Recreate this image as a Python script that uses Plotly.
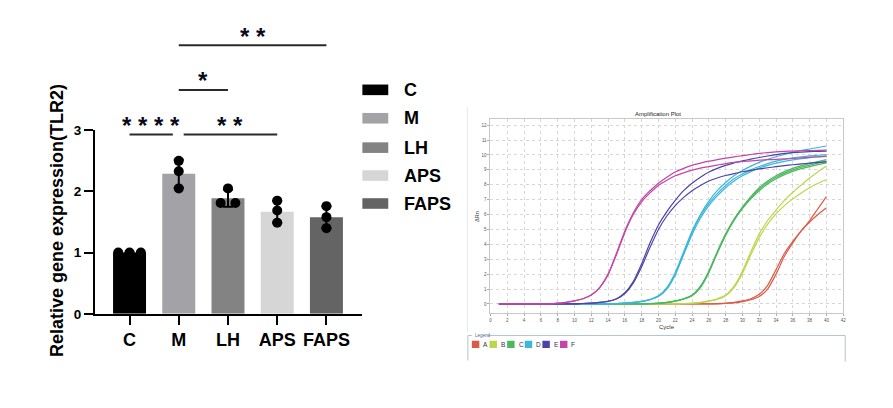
import plotly.graph_objects as go

W, H = 893, 408

# ---------------- bar chart data ----------------
categories = ["C", "M", "LH", "APS", "FAPS"]
means = [1.00, 2.29, 1.89, 1.67, 1.58]
sds = [0.00, 0.23, 0.14, 0.18, 0.18]
rep1 = [1.00, 2.50, 2.05, 1.85, 1.76]
rep2 = [1.00, 2.33, 1.81, 1.69, 1.58]
rep3 = [1.00, 2.05, 1.81, 1.49, 1.40]
bar_colors = ["#000000", "#a3a3a7", "#838383", "#d6d6d6", "#646464"]

sig_from = [0, 1.1, 1, 1]
sig_to = [0.88, 3, 2, 4]
sig_height = [2.93, 2.93, 3.66, 4.39]
sig_label = ["* * * *", "* *", "*", "* *"]

# ---------------- amplification plot data ----------------
cycles = list(range(1, 41))
z = [0.0]
A1 = z * 26 + [0.02, 0.05, 0.1, 0.2, 0.35, 0.65, 1.25, 2.3, 3.4, 4.2, 4.9, 5.6, 6.4, 7.2]
A2 = z * 26 + [0.01, 0.03, 0.07, 0.15, 0.28, 0.5, 1.0, 2.0, 3.2, 4.1, 4.9, 5.5, 6.0, 6.45]
B1 = z * 22 + [0.02, 0.05, 0.1, 0.2, 0.35, 0.6, 1.2, 2.2, 3.5, 4.7, 5.6, 6.3, 6.95, 7.5, 7.98, 8.45, 8.87, 9.25]
B2 = z * 22 + [0.02, 0.04, 0.08, 0.17, 0.3, 0.55, 1.1, 2.05, 3.3, 4.45, 5.35, 6.05, 6.6, 7.05, 7.45, 7.8, 8.1, 8.35]
C1 = z * 18 + [0.02, 0.05, 0.1, 0.2, 0.35, 0.6, 1.2, 2.2, 3.5, 4.7, 5.7, 6.5, 7.2, 7.8, 8.25, 8.6, 8.88, 9.1, 9.28, 9.42, 9.55, 9.68]
C2 = z * 18 + [0.02, 0.05, 0.1, 0.19, 0.33, 0.57, 1.15, 2.15, 3.45, 4.65, 5.65, 6.45, 7.12, 7.7, 8.15, 8.5, 8.78, 9.0, 9.18, 9.32, 9.45, 9.58]
C3 = z * 18 + [0.02, 0.04, 0.09, 0.18, 0.32, 0.55, 1.1, 2.1, 3.4, 4.6, 5.6, 6.4, 7.05, 7.6, 8.05, 8.4, 8.68, 8.9, 9.08, 9.22, 9.35, 9.47]
D1 = z * 14 + [0.03, 0.06, 0.1, 0.18, 0.3, 0.55, 1.1, 2.1, 3.5, 4.9, 6.0, 6.9, 7.6, 8.15, 8.6, 8.95, 9.25, 9.5, 9.7, 9.88, 10.03, 10.17, 10.3, 10.4, 10.5, 10.6]
D2 = z * 14 + [0.03, 0.06, 0.1, 0.17, 0.29, 0.53, 1.05, 2.0, 3.4, 4.8, 5.9, 6.75, 7.4, 7.95, 8.4, 8.72, 9.0, 9.22, 9.42, 9.58, 9.7, 9.8, 9.88, 9.94, 9.98, 10.02]
D3 = z * 14 + [0.03, 0.05, 0.09, 0.16, 0.28, 0.5, 1.0, 1.95, 3.3, 4.65, 5.75, 6.6, 7.25, 7.8, 8.25, 8.6, 8.88, 9.12, 9.3, 9.45, 9.57, 9.67, 9.75, 9.82, 9.87, 9.9]
E1 = z * 10 + [0.03, 0.05, 0.1, 0.18, 0.35, 0.75, 1.5, 2.7, 4.1, 5.3, 6.2, 6.95, 7.6, 8.1, 8.5, 8.85, 9.1, 9.3, 9.47, 9.6, 9.72, 9.83, 9.93, 10.02, 10.1, 10.15, 10.19, 10.22, 10.24, 10.25]
E2 = z * 10 + [0.03, 0.05, 0.1, 0.17, 0.33, 0.7, 1.4, 2.5, 3.8, 5.0, 5.9, 6.6, 7.15, 7.6, 7.95, 8.25, 8.45, 8.62, 8.75, 8.87, 8.97, 9.06, 9.14, 9.21, 9.28, 9.34, 9.4, 9.45, 9.5, 9.53]
F1 = z * 7 + [0.05, 0.1, 0.2, 0.35, 0.6, 1.1, 2.0, 3.4, 4.9, 6.1, 7.0, 7.6, 8.1, 8.5, 8.85, 9.1, 9.3, 9.45, 9.58, 9.68, 9.78, 9.87, 9.95, 10.03, 10.1, 10.16, 10.21, 10.24, 10.26, 10.28, 10.29, 10.3, 10.32]
F2 = z * 7 + [0.05, 0.1, 0.2, 0.35, 0.6, 1.1, 1.95, 3.3, 4.8, 6.0, 6.85, 7.45, 7.95, 8.3, 8.6, 8.8, 8.98, 9.12, 9.22, 9.32, 9.42, 9.5, 9.56, 9.6, 9.65, 9.68, 9.7, 9.73, 9.76, 9.8, 9.84, 9.88, 9.92]

amp_groups = ["A", "B", "C", "D", "E", "F"]
amp_curves = {"A": [A1, A2], "B": [B1, B2], "C": [C1, C2, C3],
              "D": [D1, D2, D3], "E": [E1, E2], "F": [F1, F2]}
amp_colors = {"A": "#dc5a46", "B": "#bcd64c", "C": "#4cb860", "D": "#3cb6dc",
              "E": "#4a44aa", "F": "#c444a8"}


def px(x):
    return x / W


def py(y):
    return 1 - y / H


FONT = "Liberation Sans, Arial, sans-serif"
Y0, Y3 = 318.5, 128.0          # pixel rows of value 0 and 3 in the bar panel
UNIT = (Y0 - Y3) / 3.0
TOP = 20.0

fig = go.Figure()

# bars with error bars
idx = list(range(len(categories)))
fig.add_trace(go.Bar(
    x=idx, y=means, width=0.67, marker=dict(color=bar_colors, line=dict(width=0)),
    error_y=dict(type="data", array=sds, color="#000000", thickness=2, width=5),
    xaxis="x", yaxis="y", showlegend=False))

# replicate points
jit1 = [-0.23, 0, 0, 0, 0]
jit2 = [0, 0, -0.15, 0, 0]
jit3 = [0.23, 0, 0.15, 0, 0]
px_pts, py_pts = [], []
for reps, jit in ((rep1, jit1), (rep2, jit2), (rep3, jit3)):
    for i in idx:
        px_pts.append(i + jit[i])
        py_pts.append(reps[i])
fig.add_trace(go.Scatter(
    x=px_pts, y=py_pts, mode="markers", cliponaxis=False,
    marker=dict(color="#000000", size=10, line=dict(width=0)),
    xaxis="x", yaxis="y", showlegend=False))

# significance lines (overlay axes)
sx, sy = [], []
for a, b, h in zip(sig_from, sig_to, sig_height):
    sx += [a, b, None]
    sy += [h, h, None]
fig.add_trace(go.Scatter(x=sx, y=sy, mode="lines", line=dict(color="#2a2a2a", width=2),
                         xaxis="x3", yaxis="y3", showlegend=False, hoverinfo="skip"))

annotations = []
for a, b, h, lab in zip(sig_from, sig_to, sig_height, sig_label):
    annotations.append(dict(x=(a + b) / 2, y=h, xref="x3", yref="y3", text=lab,
                            showarrow=False, xanchor="center", yanchor="middle", yshift=9,
                            font=dict(family=FONT, size=24, color="#0a0a1a", weight="bold")))

# amplification curves
for g in amp_groups:
    for c in amp_curves[g]:
        fig.add_trace(go.Scatter(x=cycles, y=c, mode="lines",
                                 line=dict(color=amp_colors[g], width=1.2, shape="spline", smoothing=0.6),
                                 xaxis="x2", yaxis="y2", showlegend=False))

ax_common = dict(showgrid=False, zeroline=False)
fig.update_layout(
    width=W, height=H, margin=dict(l=0, r=0, t=0, b=0), autosize=False,
    paper_bgcolor="white", plot_bgcolor="rgba(0,0,0,0)",
    font=dict(family=FONT, color="#000000"),
    xaxis=dict(domain=[px(94.5), px(363)], range=[-0.70, 4.73], anchor="y",
               tickmode="array", tickvals=idx, ticktext=categories,
               ticks="outside", ticklen=9, tickwidth=2, tickcolor="#000000",
               showline=True, linewidth=2, linecolor="#000000",
               tickfont=dict(family=FONT, size=18, color="#000000", weight="bold"), **ax_common),
    yaxis=dict(domain=[py(Y0), py(Y3)], range=[0, 3], anchor="x",
               tickmode="array", tickvals=[0, 1, 2, 3],
               ticks="outside", ticklen=9, tickwidth=2, tickcolor="#000000",
               showline=True, linewidth=2, linecolor="#000000",
               tickfont=dict(family=FONT, size=13.5, color="#000000", weight="bold"), **ax_common),
    xaxis3=dict(domain=[px(94.5), px(363)], range=[-0.70, 4.73], anchor="y3", visible=False),
    yaxis3=dict(domain=[py(Y0), py(TOP)], range=[0, (Y0 - TOP) / UNIT], anchor="x3", visible=False),
    xaxis2=dict(domain=[px(491.7), px(846)], range=[0, 42], anchor="y2",
                tickmode="linear", tick0=0, dtick=2, ticks="outside", ticklen=2,
                tickcolor="#aaaaaa", tickfont=dict(size=4.5, color="#555555"),
                showgrid=True, gridcolor="#d6d6d6", griddash="dot", gridwidth=1,
                showline=True, mirror=True, linecolor="#c8c8c8", linewidth=1, zeroline=False),
    yaxis2=dict(domain=[py(318), py(116)], range=[-0.63, 12.43], anchor="x2",
                tickmode="linear", tick0=0, dtick=1, ticks="outside", ticklen=2,
                tickcolor="#aaaaaa", tickfont=dict(size=4.5, color="#555555"),
                showgrid=True, gridcolor="#d6d6d6", griddash="dot", gridwidth=1,
                showline=True, mirror=True, linecolor="#c8c8c8", linewidth=1, zeroline=False),
)


def note(x, y, text, size, color="#000000", bold=False, xanchor="center", angle=0):
    f = dict(family=FONT, size=size, color=color)
    if bold:
        f["weight"] = "bold"
    return dict(x=px(x), y=py(y), xref="paper", yref="paper", text=text, textangle=angle,
                showarrow=False, xanchor=xanchor, yanchor="middle", font=f)


# y-axis title of bar chart
annotations.append(note(57, 221.5, "Relative gene expression(TLR2)", 18, bold=True, angle=-90))

shapes = []
# bar chart legend
leg_y = [86, 115.5, 146, 175, 204]
for cat, col, yc in zip(categories, bar_colors, leg_y):
    shapes.append(dict(type="rect", xref="paper", yref="paper", x0=px(363), x1=px(389),
                       y0=py(yc + 5.5), y1=py(yc - 5.5), fillcolor=col, line=dict(width=0)))
    annotations.append(note(403, yc, cat, 18, bold=True, xanchor="left"))

# amplification panel texts
annotations.append(note(660, 111, "Amplification Plot", 6, "#222222"))
annotations.append(note(669, 332.5, "Cycle", 6, "#333333"))
annotations.append(note(478, 217, "ΔRn", 5.5, "#333333", angle=-90))

# panel frame and legend box
frame_col = "#b4c2d0"
shapes.append(dict(type="line", xref="paper", yref="paper", x0=px(468.5), x1=px(468.5),
                   y0=py(104), y1=py(338), line=dict(color="#e4e8ee", width=1)))
shapes.append(dict(type="line", xref="paper", yref="paper", x0=px(469), x1=px(473),
                   y0=py(341), y1=py(341), line=dict(color=frame_col, width=1)))
shapes.append(dict(type="line", xref="paper", yref="paper", x0=px(489), x1=px(848),
                   y0=py(341), y1=py(341), line=dict(color=frame_col, width=1)))
shapes.append(dict(type="line", xref="paper", yref="paper", x0=px(469), x1=px(469),
                   y0=py(341), y1=py(367), line=dict(color=frame_col, width=1)))
shapes.append(dict(type="line", xref="paper", yref="paper", x0=px(848), x1=px(848),
                   y0=py(341), y1=py(368), line=dict(color=frame_col, width=1)))
annotations.append(note(474, 341, "Legend", 4.5, "#4a6a9a", xanchor="left"))
for i, g in enumerate(amp_groups):
    x0 = 473 + i * 17.7
    shapes.append(dict(type="rect", xref="paper", yref="paper", x0=px(x0), x1=px(x0 + 7.5),
                       y0=py(354), y1=py(346.5), fillcolor=amp_colors[g], line=dict(width=0)))
    annotations.append(note(x0 + 9.5, 350.5, g, 6.5, "#333333", xanchor="left"))

fig.update_layout(shapes=shapes, annotations=annotations)
fig.write_html("out.html",
               post_script="document.body.style.margin='0';document.body.style.padding='0';"
                           "document.body.style.overflow='hidden';")
